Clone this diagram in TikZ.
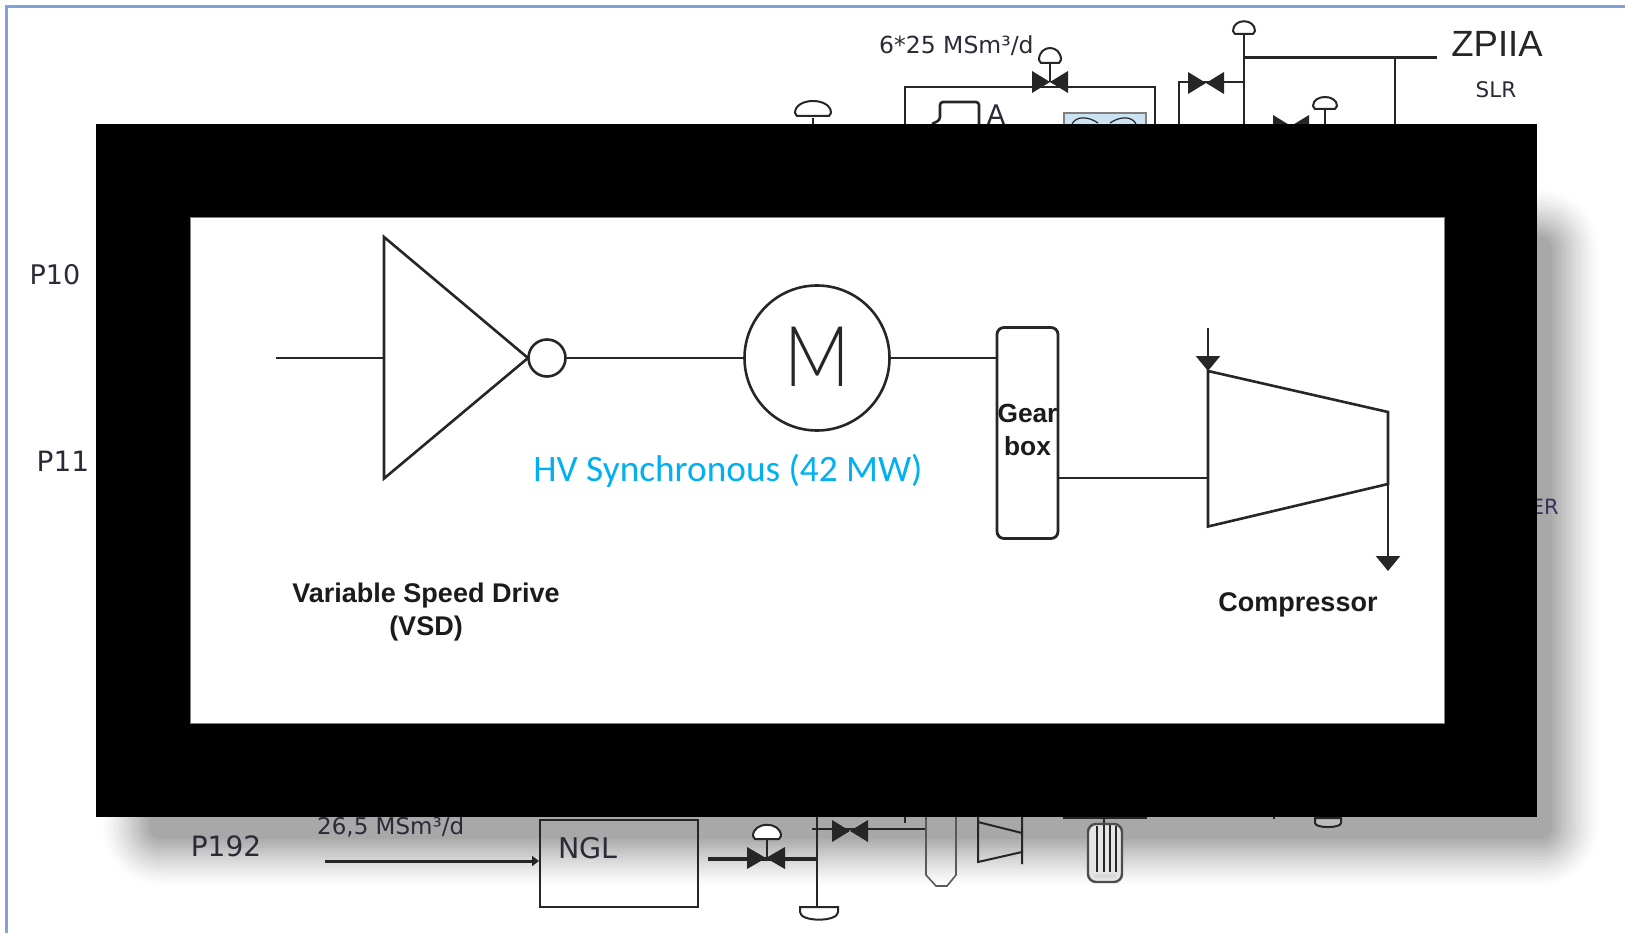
\documentclass[tikz,border=0pt]{standalone}
\usepackage{fontspec}
\setmainfont{Liberation Sans}
\newfontfamily\calfont{Carlito}
\newfontfamily\tahfont{DejaVu Sans}
\newfontfamily\thinfont{Lato Light}
\usetikzlibrary{arrows.meta}
\definecolor{ink}{HTML}{262626}
\definecolor{labelink}{HTML}{2A2B36}
\definecolor{frameblue}{HTML}{7FA3D8}
\definecolor{hvblue}{HTML}{00B0F0}
\definecolor{panelblue}{HTML}{CBE3F3}
\newcommand{\fsz}[1]{\fontsize{#1}{#1}\selectfont}
\newcommand{\domeup}[4]{\draw[bgline,fill=white] ({#1-#3},#2) .. controls ({#1-#3},{#2-#4}) and ({#1+#3},{#2-#4}) .. ({#1+#3},#2) -- ({#1+#3-2},{#2+3}) -- ({#1-#3+2},{#2+3}) -- cycle;}
\newcommand{\domedown}[3]{\draw[bgline,fill=white,fill opacity=.25] ({#1-#3},#2) -- ({#1+#3},#2) -- ({#1+#3},{#2+5}) .. controls ({#1+#3},{#2+#3*.8}) and ({#1-#3},{#2+#3*.8}) .. ({#1-#3},{#2+5}) -- cycle;}
\newcommand{\valvetie}[4]{\fill[ink] ({#1-#3},{#2-#4}) -- (#1,#2) -- ({#1-#3},{#2+#4}) -- cycle ({#1+#3},{#2-#4}) -- (#1,#2) -- ({#1+#3},{#2+#4}) -- cycle;}
\tikzset{
  bgline/.style={draw=ink,line width=2pt},
  boldline/.style={draw=ink,line width=3pt},
  mainline/.style={draw=ink,line width=2.6pt,line join=miter},
  flowarrow/.style={mainline,-{Triangle[width=24pt,length=15pt,sep=0pt]}},
  bglabel/.style={inner sep=0pt,text=labelink,font=\tahfont},
  mainlabel/.style={inner sep=0pt,text=ink!70!black,align=center,font=\bfseries\fsz{26.3}},
  circ/.style={circle,draw=ink,line width=2.6pt,inner sep=0pt,fill=white},
}
\begin{document}
\begin{tikzpicture}[x=1pt,y=-1pt]
\useasboundingbox (0,0) rectangle (1625,933);
\fill[white] (0,0) rectangle (1625,933);
% soft shadow, as fine grey bands
\foreach \e in {49,46,...,1}{
  \pgfmathsetmacro{\tone}{35*(1-\e/50)^1.25}
  \pgfmathsetmacro{\rad}{\e+12}
  \fill[black!\tone!white,rounded corners=\rad pt] ({150-\e},{237-\e}) rectangle ({1551+\e},{838+\e});
}
% frame
\draw[frameblue,line width=2.6pt] (1625,6.5) -- (6.5,6.5) -- (6.5,933);
% top background diagram
\node[bglabel,font=\tahfont\fsz{23.5},anchor=west] (flowtop) at (879,46) {6*25 MSm³/d};
\draw[bgline] (905,124) -- (905,87) -- (1155,87) -- (1155,124);
\draw[bgline] (1050,63) -- (1050,82);
\domeup{1050}{60}{11}{16}
\valvetie{1050}{82}{18}{11}
\draw[bgline,line width=2.6pt,rounded corners=3pt] (932,124) -- (940,120) -- (940,102) -- (979,102) -- (979,124);
\node[bglabel,font=\tahfont\fsz{27},anchor=center] (alabel) at (996,115) {A};
\draw[draw=gray,line width=2pt,fill=panelblue] (1064,124) -- (1064,113) -- (1146,113) -- (1146,124);
\draw[bgline,line width=1.2pt] (1072,124) .. controls (1076,116) and (1088,116) .. (1098,123) (1136,124) .. controls (1132,116) and (1120,116) .. (1110,123);
\draw[bgline] (813,118) -- (813,124);
\domeup{813}{113}{18}{16}
\draw[boldline] (1244,58) -- (1437,58);
\draw[bgline,line width=2.4pt] (1244,34) -- (1244,124) (1395,58) -- (1395,124);
\domeup{1244}{31}{11}{13}
\draw[bgline] (1179,124) -- (1179,82) -- (1244,82);
\valvetie{1206}{83}{18}{11}
\valvetie{1291}{126}{18}{11}
\draw[bgline] (1325,110) -- (1325,124);
\domeup{1325}{106}{12}{12}
\node[inner sep=0pt,text=ink,font=\fsz{36.5},anchor=center] (zpiia) at (1497,44) {ZPIIA};
\node[bglabel,font=\tahfont\fsz{21.5}] (slr) at (1496,90) {SLR};
\node[bglabel,font=\tahfont\fsz{27}] (p10) at (55,275) {P10};
\node[bglabel,font=\tahfont\fsz{28}] (p11) at (63,461) {P11};
\node[bglabel,font=\tahfont\fsz{21},anchor=east,text=black!75!blue!60!gray] (er) at (1559,507) {ER};
% bottom background diagram
\node[bglabel,font=\tahfont\fsz{28}] (p192) at (226,846) {P192};
\node[bglabel,font=\tahfont\fsz{23},anchor=west] (flowbot) at (317,827) {26,5 MSm³/d};
\node[draw=ink,line width=2.2pt,minimum width=158pt,minimum height=87pt,inner sep=0pt,anchor=north west] (ngl) at (539,819) {};
\node[bglabel,font=\tahfont\fsz{28.5}] (ngltext) at (588,848) {NGL};
\coordinate (feed) at (325,861);
\draw[boldline,-{Triangle[width=10pt,length=7pt,sep=0pt]}] (feed) -- (feed-|ngl.west);
\draw[line width=4pt,ink] (708,859) -- (816,859);
\valvetie{766}{858}{19}{11}
\draw[bgline] (767,840) -- (767,858);
\domeup{767}{836}{14}{15}
\draw[bgline,line width=2.4pt] (817,817) -- (817,907);
\domedown{819}{907}{19}
\draw[bgline] (812,829) -- (926,829);
\valvetie{850}{831}{18}{11}
\draw[bgline] (905,817) -- (905,823);
\draw[bgline,line width=1.6pt,draw=black!65] (926,817) -- (926,875) -- (936,886) -- (947,886) -- (956,875) -- (956,817);
\draw[bgline] (978,817) -- (978,862) -- (1022,852) (1022,817) -- (1022,864) (978,822) -- (1022,833);
\draw[boldline] (1063,817.5) -- (1147,817.5);
\draw[bgline] (1104,817) -- (1104,824);
\draw[bgline,line width=2.4pt,draw=black!70,fill=black!10,rounded corners=8pt] (1088,824) rectangle (1122,882);
\draw[bgline,line width=1.4pt] (1097,826) -- (1097,872) (1104,825) -- (1104,872) (1110,825) -- (1110,872) (1116,826) -- (1116,872);
\fill[white!85!black] (1094,874) rectangle (1116,878);
\draw[bgline] (1274,817) -- (1274,819);
\domedown{1328}{818}{13}
% cover panel
\fill[black] (96,124) rectangle (1537,816.5);
\fill[white] (190,217.5) rectangle (1444,723);
\draw[gray,line width=.8pt] (190,217.5) rectangle (1444,723);
% main diagram
\coordinate (vsdtop) at (384,237);
\coordinate (vsdbot) at (384,478.5);
\coordinate (vsdtip) at (528,358);
\coordinate (vsdin) at (276,358);
\draw[mainline] (vsdtop) -- (vsdtip) -- (vsdbot) -- cycle;
\draw[mainline] (vsdin) -- (vsdin-|vsdtop);
\node[circ,minimum size=37pt] (bubble) at (547,358) {};
\node[circ,minimum size=145pt] (motor) at (817,358) {};
\node[inner sep=0pt,text=ink,xscale=.86,font=\thinfont\fsz{84}] (mletter) at (817,357) {M};
\draw[mainline] (bubble) -- (motor);
\node[draw=ink,line width=2.8pt,rounded corners=7pt,minimum width=61pt,minimum height=211pt,inner sep=0pt] (gear) at (1027.5,433) {};
\draw[mainline] (motor) -- (motor-|gear.west);
\node[mainlabel] (geartext) at (1027.5,430) {Gear\\[6pt]box};
\coordinate (ctl) at (1208,371);
\coordinate (cbl) at (1208,526.5);
\coordinate (ctr) at (1388,412);
\coordinate (clr) at (1388,484);
\coordinate (cin) at (1208,328);
\coordinate (cout) at (1388,571);
\coordinate (shaftend) at (1208,478);
\draw[mainline] (ctl) -- (ctr) -- (clr) -- (cbl) -- cycle;
\draw[mainline] (gear.east|-shaftend) -- (shaftend);
\draw[flowarrow] (cin) -- (ctl);
\draw[flowarrow] (ctr) -- (cout);
\node[inner sep=0pt,text=hvblue,font=\calfont\fsz{37.3},anchor=center] (hv) at (728,471) {HV Synchronous (42 MW)};
\node[mainlabel,font=\bfseries\fsz{27}] (vsdtext) at (426,612.5) {Variable Speed Drive\\[6pt](VSD)};
\node[mainlabel,font=\bfseries\fsz{27}] (comptext) at (1298,604.5) {Compressor};
\end{tikzpicture}
\end{document}
